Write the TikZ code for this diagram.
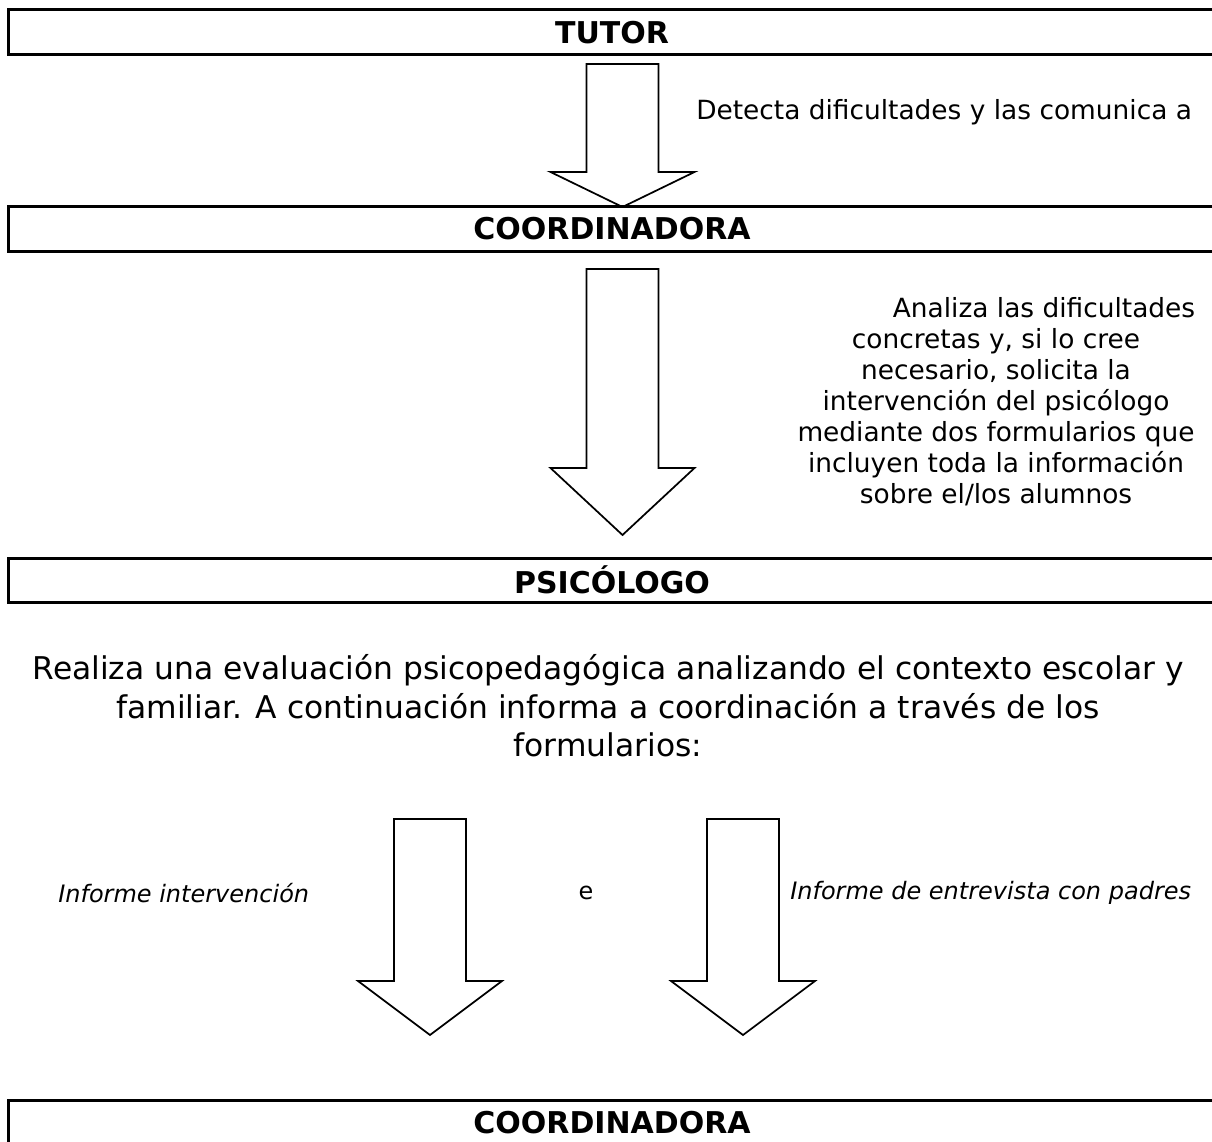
\documentclass[tikz,border=0pt]{standalone}
\usepackage{fontspec}
\setmainfont{DejaVu Sans}
\usepackage{tikz}
\tikzset{
every picture/.style={line join=miter}
}
\tikzset{
  caja/.style={draw, line width=2.25pt, minimum width=906pt, minimum height=33.75pt,
    inner sep=0pt, font=\bfseries\fontsize{22.5}{26}\selectfont},
  texto/.style={inner sep=0pt, font=\fontsize{19.8}{23.25}\selectfont},
  cursiva/.style={inner sep=0pt, font=\itshape\fontsize{18}{22}\selectfont},
  parrafo/.style={inner sep=0pt, font=\fontsize{23.5}{28.9}\selectfont},
  pics/flecha/.style 2 args={code={
    \draw[line width=1.3pt] (-36,0) -- (-36,#1) -- (-72,#1) -- (0,#1+#2)
      -- (72,#1) -- (36,#1) -- (36,0) -- cycle;
  }}
}
\begin{document}
\begin{tikzpicture}[x=0.75pt, y=-0.75pt]
    \useasboundingbox (0,0) rectangle (1212,1141);
    \clip (0,0) rectangle (1212,1141);
    % cajas
    \node[caja] (tutor) at (612,32.5) {TUTOR};
    \node[caja] (coord) at (612,229) {COORDINADORA};
    \node[caja, minimum height=33pt] (psico) at (612,580) {PSICÓLOGO};
    \node[caja] (coordfin) at (612,1122.5) {COORDINADORA};
    % flechas
    \pic at (622.5,64) {flecha={108}{35}};
    \pic at (622.5,269) {flecha={199}{67}};
    \pic at (430,819) {flecha={162}{54}};
    \pic at (743,819) {flecha={162}{54}};
    % textos
    \node[texto, anchor=base west] (detecta) at (696,120) {Detecta dificultades y las comunica a};
    \node[texto, align=center] (analiza) at (996,402) {\hspace*{72pt}Analiza las dificultades\\
      concretas y, si lo cree\\ necesario, solicita la\\ intervención del psicólogo\\
      mediante dos formularios que\\ incluyen toda la información\\ sobre el/los alumnos};
    \node[parrafo, align=center] (realiza) at (608,706) {Realiza una evaluación psicopedagógica analizando el contexto escolar y\\
      familiar. A continuación informa a coordinación a través de los\\ formularios:};
    \node[cursiva, anchor=west] (infint) at (58,893) {Informe intervención};
    \node[texto, font=\fontsize{18}{22}\selectfont] (e) at (586,893) {e};
    \node[cursiva, anchor=west] (infent) at (790,893) {Informe de entrevista con padres};
\end{tikzpicture}
\end{document}
